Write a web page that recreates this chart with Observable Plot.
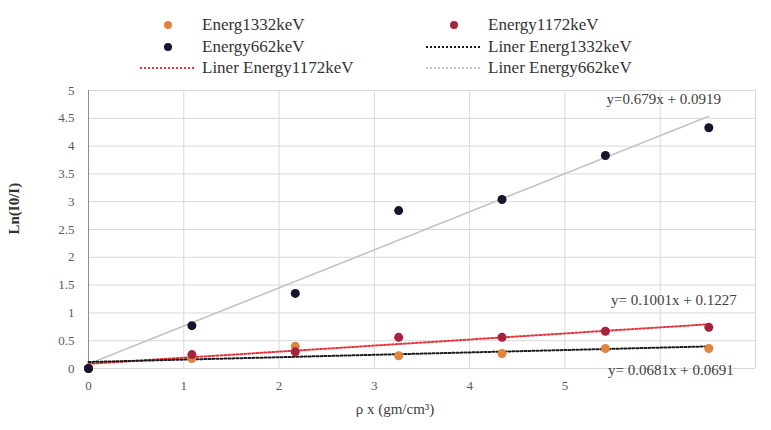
<!DOCTYPE html>
<html>
<head>
<meta charset="utf-8">
<script src="https://cdn.jsdelivr.net/npm/d3@7"></script>
<script src="https://cdn.jsdelivr.net/npm/@observablehq/plot@0.6"></script>
<style>
  body { margin: 0; background: #fff; }
  #wrap { position: relative; width: 771px; height: 430px; }
  #legend { position: relative; width: 771px; height: 80px; }
  .item { position: absolute; display: flex; align-items: center; height: 20px; white-space: nowrap;
          font-family: "Liberation Serif", "DejaVu Serif", serif; font-size: 17px; color: #333; }
  .item svg { display: block; }
  #chart { position: absolute; left: 0; top: 80px; }
</style>
</head>
<body>
<div id="wrap">
  <div id="legend"></div>
  <div id="chart"></div>
</div>
<script>
// ---- data ----
const thickness = [0, 1.085, 2.17, 3.255, 4.34, 5.425, 6.51];          // ρx (gm/cm²)
const energy662 = [0, 0.77, 1.35, 2.84, 3.04, 3.83, 4.33];
const energy1172 = [0, 0.25, 0.30, 0.56, 0.56, 0.67, 0.74];
const energy1332 = [0, 0.18, 0.40, 0.23, 0.27, 0.36, 0.36];
const seriesNames = ["Energy662keV", "Energy1172keV", "Energ1332keV"];
const fitLabels = ["y=0.679x + 0.0919", "y= 0.1001x + 0.1227", "y= 0.0681x + 0.0691"];
const xGridTicks = [0, 1, 2, 3, 4, 5, 6, 7];
const xLabelTicks = [0, 1, 2, 3, 4, 5];
const yTicks = [0, 0.5, 1, 1.5, 2, 2.5, 3, 3.5, 4, 4.5, 5];

const colors = { pt662: "#15152e", pt1172: "#a3243c", pt1332: "#e2843f",
                 ln662: "#c4c4c4", ln1172: "#e8333a", ln1332: "#1e1e1e" };

const rows = (ys, s) => thickness.map((x, i) => ({ x, y: ys[i], s }));
const d662 = rows(energy662, seriesNames[0]);
const d1172 = rows(energy1172, seriesNames[1]);
const d1332 = rows(energy1332, seriesNames[2]);

// ---- legend (HTML, above the SVG) ----
const legend = document.getElementById("legend");
function addItem(left, top, swatch, label) {
  const div = document.createElement("div");
  div.className = "item";
  div.style.left = left + "px";
  div.style.top = (top - 10) + "px";
  div.innerHTML = swatch + `<span>${label}</span>`;
  legend.appendChild(div);
}
const dot = (c) => `<svg width="62" height="20"><circle cx="28" cy="10" r="4" fill="${c}"/></svg>`;
const dash = (c, w) => `<svg width="62" height="20"><line x1="0" x2="55" y1="10" y2="10" stroke="${c}" stroke-width="${w}" stroke-dasharray="2,2"/></svg>`;
addItem(140, 25, dot(colors.pt1332), "Energ1332keV");
addItem(426, 25, dot(colors.pt1172), "Energy1172keV");
addItem(140, 47, dot(colors.pt662), "Energy662keV");
addItem(426, 47, dash(colors.ln1332, 2), "Liner Energ1332keV");
addItem(140, 68, dash(colors.ln1172, 2), "Liner Energy1172keV");
addItem(426, 68, dash(colors.ln662, 2), "Liner Energy662keV");

// ---- chart ----
const last = thickness.length - 1;
const chart = Plot.plot({
  width: 771,
  height: 350,
  marginLeft: 88,
  marginRight: 16,
  marginTop: 10,
  marginBottom: 62,
  style: { fontFamily: "Liberation Serif, serif", fontSize: "13px", color: "#595959", background: "#fff" },
  x: { domain: [0, 7] },
  y: { domain: [0, 5] },
  marks: [
    Plot.gridY(yTicks, { stroke: "#d9d9d9", strokeOpacity: 1 }),
    Plot.gridX(xGridTicks, { stroke: "#d9d9d9", strokeOpacity: 1 }),
    Plot.ruleX([0], { stroke: "#8c8c8c" }),
    Plot.axisY(yTicks, { tickSize: 0, tickPadding: 14, tickFormat: d => String(d), label: null }),
    Plot.axisX(xLabelTicks, { tickSize: 0, tickPadding: 12, label: null }),
    Plot.text(["Ln(I0/I)"], { frameAnchor: "left", rotate: -90, dx: -74, dy: 5, fontSize: 15, fill: "#333", fontWeight: "bold" }),
    Plot.text(["ρ x (gm/cm³)"], { frameAnchor: "bottom", dy: 45, dx: -27, fontSize: 15, fill: "#404040" }),
    Plot.linearRegressionY(d662, { x: "x", y: "y", ci: 0, stroke: colors.ln662, strokeWidth: 1.6 }),
    Plot.linearRegressionY(d1172, { x: "x", y: "y", ci: 0, stroke: colors.ln1172, strokeWidth: 2, strokeDasharray: "2,2" }),
    Plot.linearRegressionY(d1332, { x: "x", y: "y", ci: 0, stroke: colors.ln1332, strokeWidth: 2, strokeDasharray: "2,2" }),
    Plot.dot(d1332, { x: "x", y: "y", r: 4.5, fill: colors.pt1332 }),
    Plot.dot(d1172, { x: "x", y: "y", r: 4.5, fill: colors.pt1172 }),
    Plot.dot(d662, { x: "x", y: "y", r: 4.5, fill: colors.pt662 }),
    Plot.text([d662[last]], { x: "x", y: "y", text: () => fitLabels[0], dx: -45, dy: -29, fontSize: 15, fill: "#404040" }),
    Plot.text([d1172[last]], { x: "x", y: "y", text: () => fitLabels[1], dx: -35, dy: -27, fontSize: 15, fill: "#404040" }),
    Plot.text([d1332[last]], { x: "x", y: "y", text: () => fitLabels[2], dx: -38, dy: 22, fontSize: 15, fill: "#404040" })
  ]
});
document.getElementById("chart").appendChild(chart);
</script>
</body>
</html>
